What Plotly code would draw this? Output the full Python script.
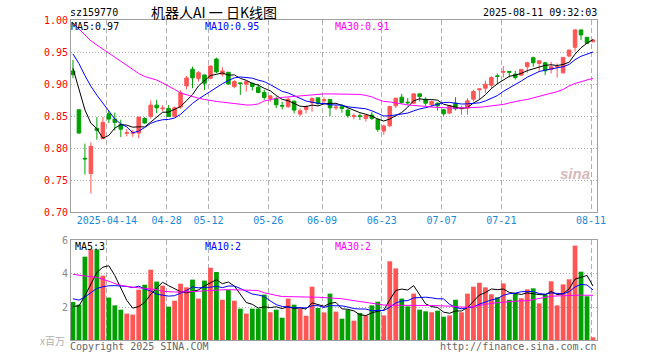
import pandas as pd
import plotly.graph_objects as go

# ---------------- data ----------------
holidays = ["2025-04-04", "2025-05-01", "2025-05-02", "2025-05-05", "2025-06-02"]
dates = [d.strftime("%Y-%m-%d") for d in pd.bdate_range("2025-04-03", "2025-08-11")
         if d.strftime("%Y-%m-%d") not in holidays]

opens = [0.9213, 0.8604, 0.7843, 0.7604, 0.8312, 0.8150, 0.8541, 0.8458, 0.8375, 0.8235,
         0.8235, 0.8239, 0.8468, 0.8500, 0.8677, 0.8620, 0.8625, 0.8500, 0.8650, 0.8979,
         0.9240, 0.9094, 0.9151, 0.9099, 0.9401, 0.9161, 0.9193, 0.8969, 0.9026, 0.9005,
         0.9021, 0.8958, 0.8875, 0.8781, 0.8781, 0.8672, 0.8651, 0.8740, 0.8536, 0.8609,
         0.8713, 0.8792, 0.8745, 0.8766, 0.8635, 0.8651, 0.8599, 0.8500, 0.8510, 0.8469,
         0.8521, 0.8453, 0.8270, 0.8354, 0.8666, 0.8802, 0.8724, 0.8708, 0.8854, 0.8771,
         0.8682, 0.8708, 0.8604, 0.8552, 0.8708, 0.8620, 0.8630, 0.8771, 0.8917, 0.8943,
         0.8990, 0.9137, 0.9195, 0.9205, 0.9163, 0.9147, 0.9279, 0.9421, 0.9332, 0.9342,
         0.9237, 0.9274, 0.9184, 0.9447, 0.9584, 0.9858, 0.9742, 0.9674]
highs = [0.9385, 0.8604, 0.8073, 0.8093, 0.8489, 0.8490, 0.8593, 0.8560, 0.8448, 0.8300,
         0.8290, 0.8495, 0.8490, 0.8750, 0.8760, 0.8677, 0.8677, 0.8656, 0.8910, 0.9135,
         0.9281, 0.9213, 0.9151, 0.9292, 0.9422, 0.9271, 0.9193, 0.9070, 0.9036, 0.9062,
         0.9031, 0.9010, 0.8917, 0.8823, 0.8812, 0.8729, 0.8800, 0.8740, 0.8625, 0.8677,
         0.8797, 0.8792, 0.8797, 0.8766, 0.8677, 0.8693, 0.8625, 0.8547, 0.8547, 0.8521,
         0.8573, 0.8469, 0.8370, 0.8666, 0.8786, 0.8854, 0.8786, 0.8854, 0.8854, 0.8802,
         0.8750, 0.8718, 0.8614, 0.8682, 0.8802, 0.8666, 0.8786, 0.8917, 0.8932, 0.9062,
         0.9132, 0.9174, 0.9290, 0.9205, 0.9216, 0.9237, 0.9358, 0.9437, 0.9374, 0.9358,
         0.9358, 0.9332, 0.9426, 0.9542, 0.9868, 0.9858, 0.9742, 0.9710]
lows = [0.9099, 0.8230, 0.7588, 0.7291, 0.8135, 0.8145, 0.8395, 0.8280, 0.8177, 0.8187,
        0.8180, 0.8156, 0.8385, 0.8468, 0.8552, 0.8578, 0.8490, 0.8490, 0.8620, 0.8927,
        0.8943, 0.9047, 0.8917, 0.9083, 0.9177, 0.9125, 0.8995, 0.8943, 0.8838, 0.8890,
        0.8906, 0.8864, 0.8760, 0.8729, 0.8630, 0.8609, 0.8640, 0.8547, 0.8505, 0.8547,
        0.8573, 0.8677, 0.8687, 0.8505, 0.8599, 0.8557, 0.8479, 0.8453, 0.8443, 0.8417,
        0.8443, 0.8260, 0.8210, 0.8333, 0.8630, 0.8698, 0.8682, 0.8698, 0.8734, 0.8666,
        0.8656, 0.8593, 0.8510, 0.8541, 0.8593, 0.8526, 0.8526, 0.8734, 0.8760, 0.8864,
        0.8937, 0.9005, 0.9110, 0.9110, 0.9079, 0.9132, 0.9184, 0.9279, 0.9200, 0.9147,
        0.9174, 0.9110, 0.9174, 0.9426, 0.9516, 0.9700, 0.9637, 0.9658]
closes = [0.9156, 0.8239, 0.7833, 0.8031, 0.8281, 0.8406, 0.8458, 0.8406, 0.8300, 0.8245,
          0.8245, 0.8489, 0.8396, 0.8677, 0.8635, 0.8630, 0.8500, 0.8635, 0.8870, 0.9104,
          0.9104, 0.9187, 0.9021, 0.9292, 0.9198, 0.9213, 0.9010, 0.9047, 0.9016, 0.9047,
          0.8969, 0.8875, 0.8797, 0.8823, 0.8682, 0.8662, 0.8770, 0.8599, 0.8588, 0.8651,
          0.8781, 0.8703, 0.8760, 0.8635, 0.8645, 0.8625, 0.8515, 0.8510, 0.8500, 0.8521,
          0.8469, 0.8297, 0.8350, 0.8656, 0.8786, 0.8719, 0.8714, 0.8854, 0.8812, 0.8708,
          0.8734, 0.8666, 0.8541, 0.8666, 0.8620, 0.8630, 0.8745, 0.8890, 0.8932, 0.9005,
          0.9110, 0.9127, 0.9205, 0.9195, 0.9110, 0.9237, 0.9342, 0.9342, 0.9374, 0.9216,
          0.9279, 0.9284, 0.9426, 0.9542, 0.9858, 0.9779, 0.9647, 0.9700]
# closes of the 9 sessions before the first visible one (needed for MA5 / MA10)
prior_closes = [0.975, 0.972, 0.970, 0.968, 0.9675, 0.9814, 0.9518, 0.9076, 0.8711]

price_ma30 = [0.9966, 0.9870, 0.9770, 0.9687, 0.9620, 0.9558, 0.9495, 0.9430, 0.9366, 0.9300,
              0.9237, 0.9174, 0.9127, 0.9096, 0.9070, 0.9025, 0.8978, 0.8923, 0.8868, 0.8837,
              0.8806, 0.8785, 0.8766, 0.8748, 0.8735, 0.8724, 0.8712, 0.8696, 0.8688, 0.8680,
              0.8680, 0.8696, 0.8743, 0.8766, 0.8782, 0.8798, 0.8806, 0.8813, 0.8821, 0.8837,
              0.8845, 0.8853, 0.8853, 0.8853, 0.8853, 0.8853, 0.8853, 0.8853, 0.8845, 0.8830,
              0.8806, 0.8766, 0.8735, 0.8727, 0.8716, 0.8696, 0.8680, 0.8676, 0.8665, 0.8657,
              0.8646, 0.8641, 0.8633, 0.8628, 0.8628, 0.8633, 0.8633, 0.8638, 0.8644, 0.8654,
              0.8665, 0.8672, 0.8688, 0.8712, 0.8735, 0.8751, 0.8766, 0.8790, 0.8810, 0.8837,
              0.8860, 0.8889, 0.8923, 0.8978, 0.9017, 0.9049, 0.9072, 0.9096]

volumes = [2.30, 2.14, 5.05, 5.49, 5.49, 3.90, 2.57, 2.10, 1.84, 1.60,
           1.54, 3.05, 3.35, 4.26, 3.54, 3.29, 2.02, 2.38, 3.41, 3.19,
           3.66, 2.51, 3.60, 4.38, 4.12, 2.44, 3.03, 2.38, 1.90, 1.60,
           1.90, 1.90, 2.75, 1.68, 1.84, 1.35, 2.51, 2.14, 1.90, 1.47,
           3.23, 1.94, 1.67, 2.81, 1.72, 1.29, 1.82, 1.17, 1.64, 1.49,
           2.10, 2.32, 1.49, 4.77, 4.34, 2.51, 2.04, 2.81, 1.84, 1.74,
           1.68, 1.78, 1.41, 1.49, 2.44, 1.68, 2.81, 3.23, 3.47, 3.19,
           2.77, 2.59, 3.43, 2.44, 2.81, 2.53, 3.07, 3.13, 2.22, 2.75,
           3.56, 2.10, 3.37, 3.68, 5.72, 4.14, 2.65, 0.16]
prior_volumes = [3.0, 3.1, 2.9, 2.9, 2.9, 2.0, 2.0, 1.9, 2.0]
vol_ma30 = [3.98, 3.92, 3.86, 3.83, 3.80, 3.70, 3.56, 3.42, 3.31, 3.25,
            3.19, 3.16, 3.13, 3.11, 3.05, 2.95, 2.91, 2.91, 2.91, 2.91,
            2.93, 2.95, 2.98, 3.01, 3.03, 3.04, 3.05, 3.05, 3.04, 3.03,
            3.01, 2.99, 2.86, 2.78, 2.70, 2.63, 2.63, 2.63, 2.63, 2.62,
            2.61, 2.59, 2.57, 2.55, 2.52, 2.50, 2.44, 2.38, 2.32, 2.26,
            2.20, 2.14, 2.12, 2.11, 2.10, 2.10, 2.09, 2.09, 2.09, 2.09,
            2.09, 2.09, 2.08, 2.05, 2.02, 2.00, 1.98, 2.03, 2.10, 2.17,
            2.22, 2.26, 2.30, 2.32, 2.35, 2.37, 2.38, 2.45, 2.52, 2.60,
            2.65, 2.67, 2.69, 2.71, 2.72, 2.72, 2.71, 2.71]

tick_dates = ["2025-04-14", "2025-04-28", "2025-05-12", "2025-05-26", "2025-06-09",
              "2025-06-23", "2025-07-07", "2025-07-21", "2025-08-11"]
tick_labels = ["2025-04-14", "04-28", "05-12", "05-26", "06-09", "06-23", "07-07", "07-21", "08-11"]
price_ticks = [0.70, 0.75, 0.80, 0.85, 0.90, 0.95, 1.00]
vol_ticks = [2, 4, 6]

# ---------------- derived ----------------
def moving_avg(prior, vals, n):
    full = prior + vals
    off = len(prior)
    return [sum(full[off + i - n + 1: off + i + 1]) / n for i in range(len(vals))]

xs = list(range(len(dates)))
ma5 = moving_avg(prior_closes, closes, 5)
ma10 = moving_avg(prior_closes, closes, 10)
vma5 = moving_avg(prior_volumes, volumes, 5)
vma10 = moving_avg(prior_volumes, volumes, 10)

RED = "#ff5555"
GREEN = "#00a000"
vol_colors = [RED if c >= o else GREEN for o, c in zip(opens, closes)]
MONO = "DejaVu Sans Mono"
GRID = "#b0b0b0"
FRAME = "#a0a0a0"

fig = go.Figure()
fig.add_trace(go.Candlestick(
    x=xs, open=opens, high=highs, low=lows, close=closes,
    increasing=dict(line=dict(color=RED, width=1), fillcolor=RED),
    decreasing=dict(line=dict(color=GREEN, width=1), fillcolor=GREEN),
    whiskerwidth=0, xaxis="x", yaxis="y", showlegend=False, hoverinfo="skip"))
for vals, col in [(ma5, "#000000"), (ma10, "#0000ff"), (price_ma30, "#ff00ff")]:
    fig.add_trace(go.Scatter(x=xs, y=vals, mode="lines", line=dict(color=col, width=1),
                             xaxis="x", yaxis="y", showlegend=False, hoverinfo="skip"))

fig.add_trace(go.Bar(x=xs, y=volumes, marker=dict(color=vol_colors, line=dict(width=0)),
                     width=0.8, xaxis="x2", yaxis="y2", showlegend=False, hoverinfo="skip"))
for vals, col in [(vma5, "#000000"), (vma10, "#0000ff"), (vol_ma30, "#ff00ff")]:
    fig.add_trace(go.Scatter(x=xs, y=vals, mode="lines", line=dict(color=col, width=1),
                             xaxis="x2", yaxis="y2", showlegend=False, hoverinfo="skip"))

shift = -0.33
tickvals = [dates.index(d) + shift for d in tick_dates]
xr = [-0.33, len(dates) - 1 + 0.67]

common_x = dict(range=xr, tickvals=tickvals, showgrid=True, gridcolor=GRID, griddash="5px,3px",
                gridwidth=1, showline=True, mirror=True, linecolor=FRAME, linewidth=1,
                zeroline=False, ticks="", ticklen=0, fixedrange=True, automargin=False)
common_y = dict(showgrid=True, gridcolor=GRID, griddash="1px,2px", showline=True, mirror=True,
                linecolor=FRAME, linewidth=1, zeroline=False, ticks="", ticklen=0,
                automargin=False, fixedrange=True)
fig.update_layout(
    width=660, height=360,
    margin=dict(l=71, r=63, t=20, b=20, autoexpand=False),
    paper_bgcolor="white", plot_bgcolor="white",
    boxgap=0.15,
    xaxis=dict(domain=[0, 1], anchor="y", ticktext=tick_labels, ticklabelstandoff=-1,
               tickfont=dict(family=MONO, size=10, color="#1a8ad4"),
               rangeslider=dict(visible=False), **common_x),
    xaxis2=dict(domain=[0, 1], anchor="y2", showticklabels=False, **common_x),
    yaxis=dict(domain=[0.4, 1.0], range=[0.70, 1.0013], tickvals=price_ticks,
               ticktext=["%.2f" % v for v in price_ticks],
               tickfont=dict(family=MONO, size=10, color="#ff0000"), **common_y),
    yaxis2=dict(domain=[0, 0.3125], range=[0, 6.06], tickvals=vol_ticks,
                ticktext=[str(v) for v in vol_ticks],
                tickfont=dict(family=MONO, size=10, color="#888888"), **common_y),
    font=dict(family=MONO, size=10, color="#000000"),
)

def ann(text, x, y, xanchor="left", color="#000000", size=10, family=MONO, **kw):
    fig.add_annotation(text=text, x=x, y=y, xref="paper", yref="paper", xanchor=xanchor,
                       yanchor="middle", showarrow=False,
                       font=dict(family=family, size=size, color=color), **kw)

ann("sz159770", -0.006, 1.025)
ann("机器人AI 一 日K线图", 0.271, 1.026, xanchor="center", size=14,
    family="Noto Sans CJK SC")
ann("2025-08-11 09:32:03", 1.004, 1.025, xanchor="right")
ann("MA5:%.2f" % ma5[-1], -0.004, 0.979)
ann("MA10:%.2f" % ma10[-1], 0.250, 0.979, color="#0000ff")
ann("MA30:%.2f" % price_ma30[-1], 0.498, 0.979, color="#ff00ff")
ann("MA5:3", 0.004, 0.291)
ann("MA10:2", 0.251, 0.291, color="#0000ff")
ann("MA30:2", 0.498, 0.291, color="#ff00ff")
ann("x百万", -0.008, -0.002, xanchor="right", color="#b0b0b0", family="Noto Sans CJK SC")
ann("Copyright 2025 SINA.COM", -0.006, -0.019, color="#666666")
ann("http://finance.sina.com.cn", 1.004, -0.019, xanchor="right", color="#666666")
ann("<b><i>sina</i></b>", 0.958, 0.52, xanchor="center", color="#d8b8b8", size=15,
    family="Liberation Sans")

# remove the browser's default 8px page margin so the 660x360 figure fills the window
fig.write_html("out.html", config={"displayModeBar": False, "staticPlot": True},
               post_script="document.body.style.margin='0';"
                           "document.body.style.overflow='hidden';")
